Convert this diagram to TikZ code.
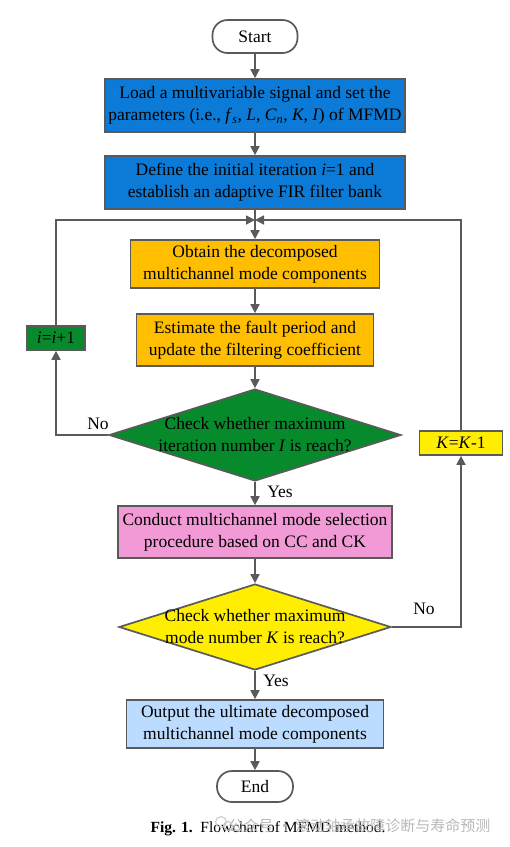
\documentclass[tikz,border=0pt]{standalone}
\usepackage{fontspec}
\setmainfont{Liberation Serif}
\newfontfamily\cjkfont{Noto Sans CJK SC}
\usetikzlibrary{arrows.meta,shapes.geometric}
\definecolor{lg}{HTML}{5A5A5A}
\definecolor{cblue}{HTML}{0B7BD7}
\definecolor{corange}{HTML}{FFBF00}
\definecolor{cgreen}{HTML}{078A2C}
\definecolor{cyellow}{HTML}{FFEE00}
\definecolor{cpink}{HTML}{F29AD6}
\definecolor{clblue}{HTML}{BBDBFF}
\newcommand{\iv}[1]{\textit{#1}}
\begin{document}
\begin{tikzpicture}[x=1pt,y=-1pt,
  every node/.style={font=\fontsize{17.5}{22}\selectfont, text=black},
  box/.style={draw=lg, line width=1.7pt, rectangle, align=center, inner sep=0pt},
  term/.style={draw=lg, line width=1.7pt, rectangle, rounded corners=15pt, align=center, inner sep=0pt, fill=white},
  dia/.style={draw=lg, line width=1.7pt, diamond, inner sep=0pt},
  conn/.style={draw=lg, line width=1.7pt, -{Triangle[length=9pt,width=9pt]}},
  lab/.style={font=\fontsize{17.5}{20}\selectfont}
]
\useasboundingbox (0,0) rectangle (510,847);

\node[term, minimum width=85pt, minimum height=33pt] (start) at (255,36.5) {Start};
\node[box, fill=cblue, minimum width=300pt, minimum height=53pt] (b1) at (255,105.5)
  {Load a multivariable signal and set the\\parameters (i.e., \iv{f}\textsubscript{\iv{s}}, \iv{L}, \iv{C}\textsubscript{\iv{n}}, \iv{K}, \iv{I}) of MFMD};
\node[box, fill=cblue, minimum width=300pt, minimum height=53pt] (b2) at (255,182.5)
  {Define the initial iteration \iv{i}=1 and\\establish an adaptive FIR filter bank};
\node[box, fill=corange, minimum width=249pt, minimum height=48pt] (b3) at (255,264)
  {Obtain the decomposed\\multichannel mode components};
\node[box, fill=corange, minimum width=237pt, minimum height=52pt] (b4) at (255,340)
  {Estimate the fault period and\\update the filtering coefficient};
\node[dia, fill=cgreen, minimum width=292pt, minimum height=92pt] (d1) at (255,435) {};
\node[align=center] (d1t) at (255,435) {Check whether maximum\\iteration number \iv{I} is reach?};
\node[box, fill=cgreen, minimum width=58pt, minimum height=24pt] (ii) at (56,338) {\iv{i}=\iv{i}+1};
\node[box, fill=cyellow, minimum width=83pt, minimum height=24pt] (kk) at (461,443) {\iv{K}=\iv{K}-1};
\node[box, fill=cpink, minimum width=274pt, minimum height=52pt] (b5) at (255,532)
  {Conduct multichannel mode selection\\procedure based on CC and CK};
\node[dia, fill=cyellow, minimum width=272pt, minimum height=86pt] (d2) at (255,627) {};
\node[align=center] (d2t) at (255,627) {Check whether maximum\\mode number \iv{K} is reach?};
\node[box, fill=clblue, minimum width=257pt, minimum height=48pt] (b6) at (255,724)
  {Output the ultimate decomposed\\multichannel mode components};
\node[term, minimum width=76pt, minimum height=31pt] (end) at (255,786.5) {End};

\coordinate (merge) at (255,220);
\coordinate (lt) at (56,220);
\coordinate (rt) at (461,220);
\coordinate (lb) at (56,435);

\draw[conn] (start) -- (b1);
\draw[conn] (b1) -- (b2);
\draw[conn] (b2) -- (b3);
\draw[conn] (b3) -- (b4);
\draw[conn] (b4) -- (d1);
\draw[conn] (d1) -- (b5);
\draw[conn] (b5) -- (d2);
\draw[conn] (d2) -- (b6);
\draw[conn] (b6) -- (end);

\draw[conn] (d1.west) -- (lb) -- (ii.south);
\draw[conn] (ii.north) -- (lt) -- (merge);
\draw[conn] (d2.east) -| (kk.south);
\draw[conn] (kk.north) -- (rt) -- (merge);

\node[lab] (no1) at (98,424) {No};
\node[lab] (yes1) at (280,492) {Yes};
\node[lab] (no2) at (424,609) {No};
\node[lab] (yes2) at (276,681) {Yes};

\node[anchor=base west, font=\fontsize{15.5}{18}\selectfont] (cap) at (147,832)
  {\textbf{Fig. 1.}\ \ Flowchart of MFMD method.};
\node[anchor=base east, text=black!28, font=\cjkfont\fontsize{15}{18}\selectfont] (wm) at (494,831)
  {公众号 · 滚动轴承故障诊断与寿命预测};
\draw[black!22, line width=1pt] (221,822) circle (5.5pt) (228,826) circle (4.5pt);
\end{tikzpicture}
\end{document}
